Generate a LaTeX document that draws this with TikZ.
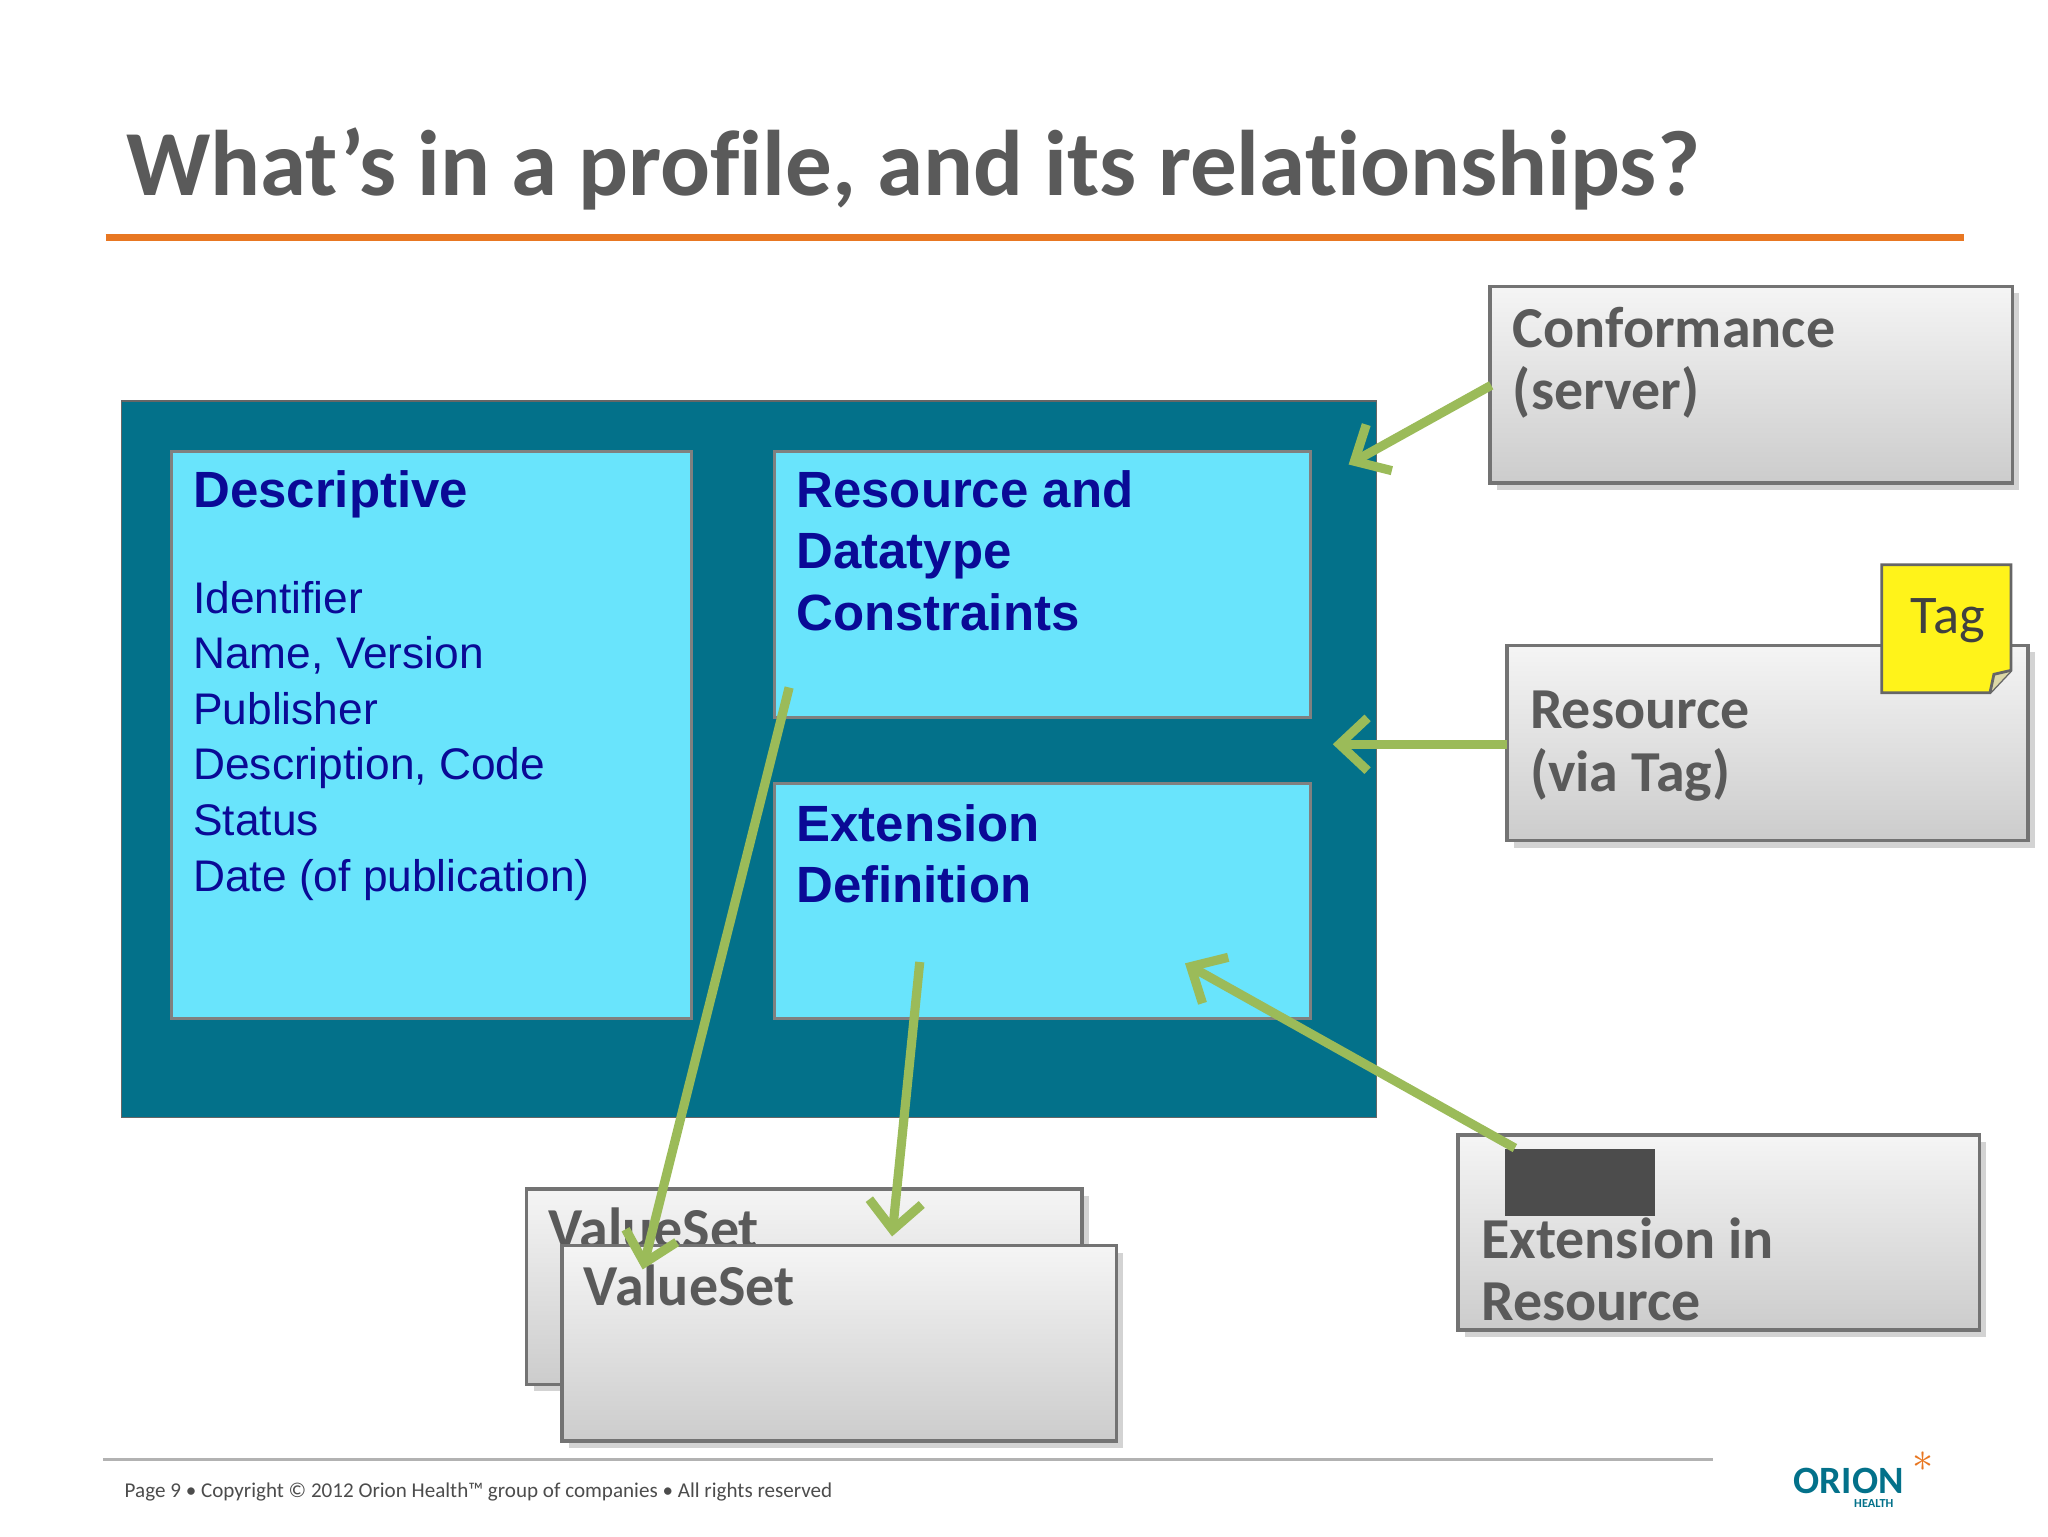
\documentclass[tikz,border=0pt]{standalone}
\usepackage{fontspec}
\setmainfont{Liberation Sans}
\newfontfamily\calibri{Carlito}[Ligatures=NoCommon]
\usetikzlibrary{shadows,arrows.meta}
\definecolor{profileteal}{HTML}{03718A}
\definecolor{cyanbox}{HTML}{69E4FC}
\definecolor{navy}{HTML}{0A0A96}
\definecolor{slate}{HTML}{5A5A5A}
\definecolor{leaf}{HTML}{9BBB59}
\definecolor{orangeline}{HTML}{E87722}

\tikzset{
	part/.style = {draw=black!50, fill=cyanbox, line width=0.8pt},
	other/.style = {draw=black!55, line width=1pt, top color=black!4, bottom color=black!20,
		drop shadow={shadow xshift=2pt, shadow yshift=-2pt, opacity=0.35}},
	head/.style = {anchor=north west, inner sep=0pt, font=\bfseries\fontsize{14.5}{17.5}\selectfont,
		text=navy, align=left},
	plain/.style = {anchor=north west, inner sep=0pt, font=\fontsize{12.6}{15.8}\selectfont,
		text=navy, align=left},
	gray/.style = {anchor=north west, inner sep=0pt, font=\calibri\bfseries\fontsize{16.5}{17.8}\selectfont,
		text=slate, align=left},
	link/.style = {draw=leaf, line width=2.6pt, -{Straight Barb[length=8pt,width=15pt,line width=2.6pt]}}
}

\begin{document}
\begin{tikzpicture}[x=0.0132cm, y=-0.0132cm]
	\useasboundingbox (0,0) rectangle (1552,1164);
	% title
	\node[anchor=west, inner sep=0pt, text=slate, font=\calibri\bfseries\fontsize{26.5}{28}\selectfont] (title) at (95,128) {What’s in a profile, and its relationships?};
	\draw[orangeline, line width=2pt] (80,180) -- (1488,180);

	% profile
	\draw[fill=profileteal, draw=black!60] (92,304) rectangle (1043,847);
	\draw[part] (130,342) rectangle (524,772);
	\draw[part] (587,342) rectangle (993,544);
	\draw[part] (587,594) rectangle (993,772);
	\node[head] (desc) at (146,356) {Descriptive};
	\node[plain] (fields) at (146,440) {Identifier\\Name, Version\\Publisher\\Description, Code\\Status\\Date (of publication)};
	\node[head] (constr) at (603,356) {Resource and\\Datatype\\Constraints};
	\node[head] (extdef) at (603,609) {Extension\\Definition};

	% related resources
	\draw[other] (1129,217) rectangle (1525,366);
	\node[gray] (conf) at (1146,232) {Conformance\\(server)};
	\draw[other] (1142,489) rectangle (1537,637);
	\node[gray] (res) at (1159,523) {Resource\\(via Tag)};
	\draw[fill=yellow!90!white, draw=black!60, line width=0.8pt] (1426,428) -- (1524,428) -- (1524,508) -- (1508,525) -- (1426,525) -- cycle;
	\draw[draw=black!60, fill=yellow!60!black!40, line width=0.8pt] (1508,525) -- (1511,511) -- (1524,508);
	\node[anchor=center, inner sep=0pt, font=\calibri\fontsize{15.5}{18}\selectfont, text=black!75] (tag) at (1476,470) {Tag};
	\draw[other] (1105,860) rectangle (1500,1008);
	\draw[fill=black!70, draw=black!70] (1141,871) rectangle (1254,921);
	\node[gray] (extres) at (1122,922) {Extension in\\Resource};
	\draw[other] (399,901) rectangle (820,1049);
	\node[gray] (vs1) at (415,915) {ValueSet};
	\draw[other] (426,944) rectangle (846,1092);
	\node[gray] (vs2) at (442,958) {ValueSet};

	% links
	\coordinate (c1) at (1130,292); \coordinate (c2) at (1022,352);
	\coordinate (r1) at (1142,564); \coordinate (r2) at (1010,564);
	\coordinate (e1) at (1148,870); \coordinate (e2) at (898,730);
	\coordinate (v1) at (598,521); \coordinate (v2) at (487,962);
	\coordinate (w1) at (697,729); \coordinate (w2) at (676,937);
	\draw[link] (c1) -- (c2);
	\draw[link] (r1) -- (r2);
	\draw[link] (e1) -- (e2);
	\draw[link] (v1) -- (v2);
	\draw[link] (w1) -- (w2);

	% footer
	\draw[black!30, line width=0.8pt] (78,1106) -- (1298,1106);
	\node[anchor=west, inner sep=0pt, text=black!70, font=\calibri\fontsize{6}{7}\selectfont] (foot) at (94,1131) {Page 9 • Copyright © 2012 Orion Health™ group of companies • All rights reserved};
	\node[anchor=center, inner sep=0pt, text=profileteal, font=\calibri\bfseries\fontsize{11}{12}\selectfont] (logo) at (1401,1122) {ORION};
	\node[anchor=center, inner sep=0pt, text=profileteal, font=\calibri\bfseries\fontsize{3.5}{4}\selectfont] (health) at (1420,1139) {HEALTH};
	\node[anchor=center, inner sep=0pt, text=orangeline, font=\fontsize{12}{12}\selectfont] (star) at (1457,1108) {$\ast$};
\end{tikzpicture}
\end{document}
